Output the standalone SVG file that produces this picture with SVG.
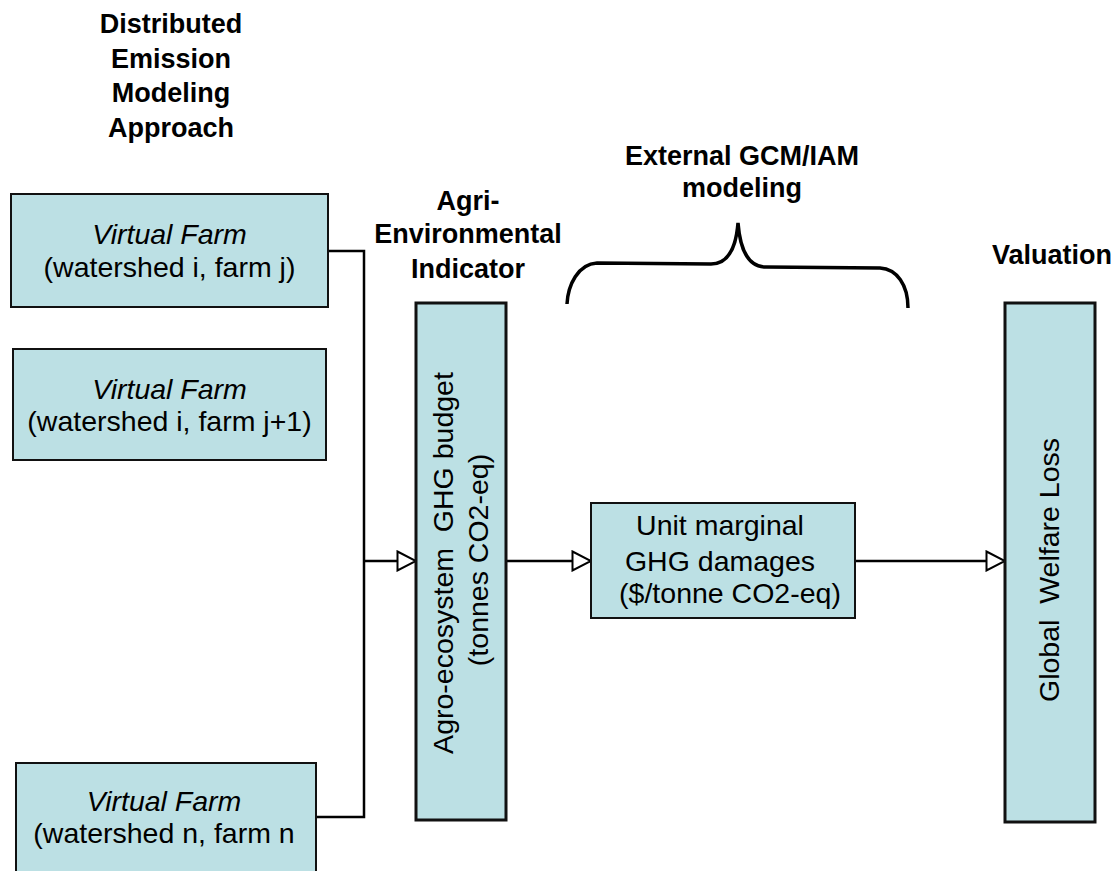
<svg xmlns="http://www.w3.org/2000/svg" width="1120" height="871" viewBox="0 0 1120 871">
  <style>
    .box { fill: #BCE0E4; stroke: #111; stroke-width: 2; }
    .bar { fill: #BCE0E4; stroke: #111; stroke-width: 3; }
    .label { font-family: "Liberation Sans", Arial, sans-serif; font-size: 28.5px; fill: #000; text-anchor: middle; }
    .it { font-style: italic; }
    .title { font-family: "Liberation Sans", Arial, sans-serif; font-size: 27px; font-weight: bold; fill: #000; text-anchor: middle; }
    .wire { fill: none; stroke: #000; stroke-width: 2.5; }
    .brace { fill: none; stroke: #000; stroke-width: 3.5; stroke-linecap: butt; }
  </style>
  <defs>
    <marker id="openArrow" markerUnits="userSpaceOnUse" viewBox="0 0 22 22" refX="20" refY="11" markerWidth="22" markerHeight="22" orient="auto">
      <path d="M1.5,1.5 L20,11 L1.5,20.5 Z" fill="#fff" stroke="#000" stroke-width="2"/>
    </marker>
  </defs>

  <rect width="1120" height="871" fill="#fff"/>

  <!-- column headings -->
  <g id="heading-approach">
    <text class="title" x="171" y="33">Distributed</text>
    <text class="title" x="171" y="68">Emission</text>
    <text class="title" x="171" y="102">Modeling</text>
    <text class="title" x="171" y="137">Approach</text>
  </g>
  <g id="heading-indicator">
    <text class="title" x="468" y="210">Agri-</text>
    <text class="title" x="468" y="243">Environmental</text>
    <text class="title" x="468" y="278">Indicator</text>
  </g>
  <g id="heading-external">
    <text class="title" x="742" y="165">External GCM/IAM</text>
    <text class="title" x="742" y="197">modeling</text>
  </g>
  <g id="heading-valuation">
    <text class="title" x="1052" y="264">Valuation</text>
  </g>

  <!-- curly brace over the external modeling step -->
  <path id="brace" class="brace" d="M567,304 C568,285 578,264 597,263 L711,264 C728,264 736,248 738,223 C740,249 748,267 766,267 L880,268 C897,269 908,285 908,308"/>

  <!-- connectors -->
  <g id="connectors">
    <polyline class="wire" points="328,251 364,251 364,817 316,817"/>
    <line class="wire" x1="364" y1="561" x2="416" y2="561" marker-end="url(#openArrow)"/>
    <line class="wire" x1="506" y1="561" x2="591" y2="561" marker-end="url(#openArrow)"/>
    <line class="wire" x1="855" y1="561" x2="1005" y2="561" marker-end="url(#openArrow)"/>
  </g>

  <!-- farm nodes -->
  <g id="farm-ij">
    <rect class="box" x="11" y="194" width="317" height="113"/>
    <text class="label it" x="169.5" y="244">Virtual Farm</text>
    <text class="label" x="169.5" y="277">(watershed i, farm j)</text>
  </g>
  <g id="farm-ij1">
    <rect class="box" x="13" y="349" width="313" height="111"/>
    <text class="label it" x="169.5" y="399">Virtual Farm</text>
    <text class="label" x="169.5" y="431">(watershed i, farm j+1)</text>
  </g>
  <g id="farm-nn">
    <rect class="box" x="16" y="763" width="300" height="115"/>
    <text class="label it" x="164" y="811">Virtual Farm</text>
    <text class="label" x="164" y="843">(watershed n, farm n</text>
  </g>

  <!-- indicator bar -->
  <g id="ghg-budget">
    <rect class="bar" x="416" y="303" width="90" height="517"/>
    <text class="label" transform="translate(453,563) rotate(-90)" x="0" y="0" xml:space="preserve">Agro-ecosystem  GHG budget</text>
    <text class="label" transform="translate(488,560) rotate(-90)" x="0" y="0">(tonnes CO2-eq)</text>
  </g>

  <!-- damages node -->
  <g id="marginal-damages">
    <rect class="box" x="591" y="503" width="264" height="115"/>
    <text class="label" x="720" y="535">Unit marginal</text>
    <text class="label" x="720" y="571">GHG damages</text>
    <text class="label" x="730" y="603">($/tonne CO2-eq)</text>
  </g>

  <!-- valuation bar -->
  <g id="welfare-loss">
    <rect class="bar" x="1005" y="303" width="90" height="519"/>
    <text class="label" transform="translate(1059,570) rotate(-90)" x="0" y="0" xml:space="preserve">Global  Welfare Loss</text>
  </g>
</svg>
